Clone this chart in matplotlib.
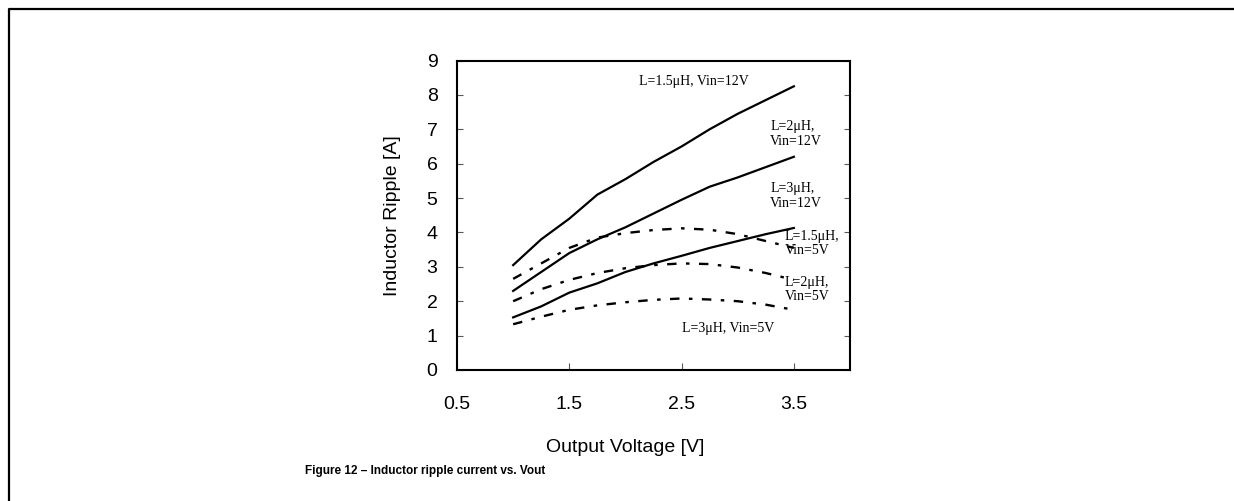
import matplotlib
matplotlib.use("Agg")
from matplotlib import pyplot as plt
from matplotlib.lines import Line2D

plt.rcParams['font.family'] = ['Liberation Sans', 'DejaVu Sans']

# output voltage samples [V]
vout = [1.0, 1.25, 1.5, 1.75, 2.0, 2.25, 2.5, 2.75, 3.0, 3.25, 3.5]

# inductor ripple [A], Vin = 12 V
ripple_15u_12v = [3.05, 3.8, 4.4, 5.1, 5.55, 6.05, 6.5, 7.0, 7.45, 7.85, 8.25]
ripple_2u_12v = [2.3, 2.85, 3.4, 3.8, 4.15, 4.55, 4.95, 5.33, 5.6, 5.9, 6.2]
ripple_3u_12v = [1.53, 1.85, 2.25, 2.52, 2.85, 3.1, 3.32, 3.55, 3.75, 3.95, 4.13]

# inductor ripple [A], Vin = 5 V
ripple_15u_5v = [2.65, 3.1, 3.55, 3.85, 3.98, 4.07, 4.12, 4.08, 3.95, 3.75, 3.55]
ripple_2u_5v = [2.0, 2.35, 2.62, 2.82, 2.96, 3.05, 3.1, 3.08, 2.98, 2.82, 2.62]
ripple_3u_5v = [1.33, 1.55, 1.75, 1.88, 1.97, 2.04, 2.08, 2.05, 2.0, 1.9, 1.75]

x_ticks = [0.5, 1.5, 2.5, 3.5]
y_ticks = list(range(0, 10))

labels = ['L=1.5\u03bcH, Vin=12V', 'L=2\u03bcH,\nVin=12V', 'L=3\u03bcH,\nVin=12V',
          'L=1.5\u03bcH,\nVin=5V', 'L=2\u03bcH,\nVin=5V', 'L=3\u03bcH, Vin=5V']
label_pos = [(2.12, 8.4), (3.29, 6.86), (3.29, 5.06),
             (3.42, 3.69), (3.42, 2.33), (2.5, 1.22)]

fig = plt.figure(figsize=(12.34, 5.01), dpi=100)
W, H = 1234, 501

# outer frame (open on the right and bottom, as in the scan)
fig.add_artist(Line2D([9 / W, 9 / W, 1.01], [-0.01, 1 - 9 / H, 1 - 9 / H],
                      transform=fig.transFigure, color='k', lw=1.6))

ax = fig.add_axes((457 / W, 1 - 370 / H, (850 - 457) / W, (370 - 60.5) / H))

solid = dict(color='k', lw=1.6)
dashed = dict(color='k', lw=1.7, linestyle=(0, (4, 4, 1.5, 4)))

ax.plot(vout, ripple_15u_12v, **solid)
ax.plot(vout, ripple_2u_12v, **solid)
ax.plot(vout, ripple_3u_12v, **solid)
ax.plot(vout, ripple_15u_5v, **dashed)
ax.plot(vout, ripple_2u_5v, **dashed)
ax.plot(vout, ripple_3u_5v, **dashed)

for txt, (x, y) in zip(labels, label_pos):
    ax.text(x, y, txt, family=['Liberation Serif', 'DejaVu Serif'], fontsize=10,
            ha='left', va='center', linespacing=1.12)

ax.set_xlim(0.5, 4.0)
ax.set_ylim(0, 9)
ax.set_xticks(x_ticks)
ax.set_xticklabels([str(v) for v in x_ticks])
ax.set_yticks(y_ticks)

for s in ax.spines.values():
    s.set_linewidth(1.5)

ax.tick_params(axis='x', direction='in', length=5, width=0.8, color='0.35',
               labelsize=14, pad=19)
ax.tick_params(axis='y', direction='in', length=4, width=0.8, color='0.35',
               labelsize=14, pad=14, right=True)

ax.set_ylabel('Inductor Ripple [A]', fontsize=14)
ax.yaxis.set_label_coords(-0.142, 0.5)

# x label centred over the labelled range 0.5 .. 3.5
ax.text(2.0, -0.25, 'Output Voltage [V]', transform=ax.get_xaxis_transform(),
        ha='center', va='center', fontsize=14)

fig.text(425 / W, 1 - 471 / H, 'Figure 12 \u2013 Inductor ripple current vs. Vout',
         ha='center', va='center', fontsize=8.5, fontweight='bold')

fig.savefig('out.png', dpi=100)
